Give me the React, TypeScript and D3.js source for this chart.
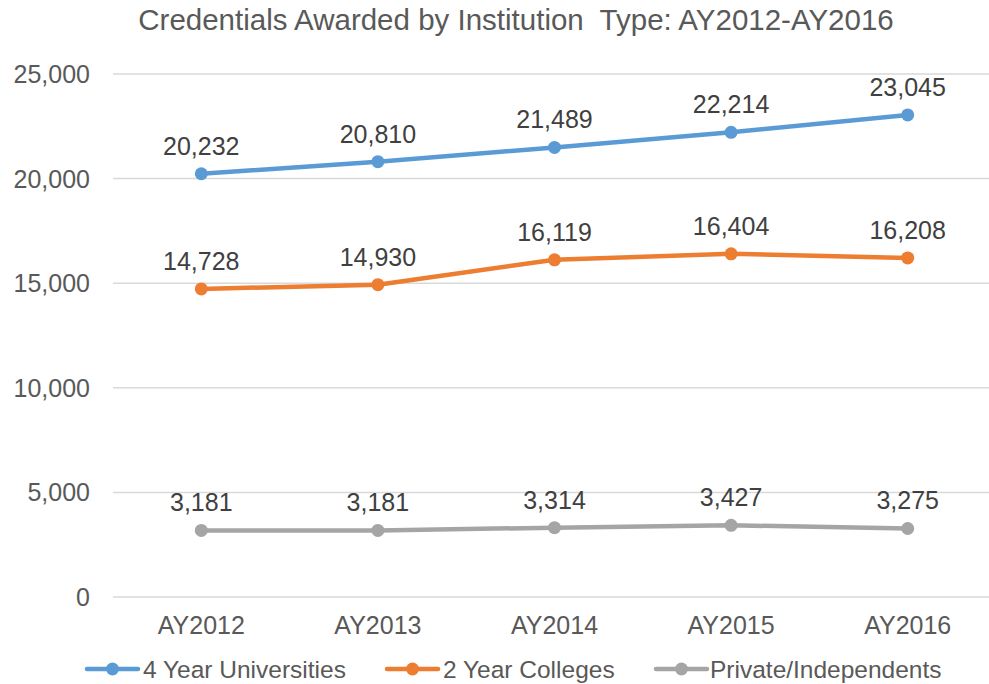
import * as d3 from "d3";

const years = ["AY2012", "AY2013", "AY2014", "AY2015", "AY2016"];
const fourYear = [20232, 20810, 21489, 22214, 23045];
const twoYear = [14728, 14930, 16119, 16404, 16208];
const privateInd = [3181, 3181, 3314, 3427, 3275];
const yTickValues = [0, 5000, 10000, 15000, 20000, 25000];

const seriesList = [
  { name: "4 Year Universities", values: fourYear, color: "#5b9bd5" },
  { name: "2 Year Colleges", values: twoYear, color: "#ed7d31" },
  { name: "Private/Independents", values: privateInd, color: "#a5a5a5" },
];

const W = 989;
const H = 684;
const textColor = "#595959";
const font = "'Liberation Sans', Arial, sans-serif";

export default function App() {
  const x = d3.scalePoint<string>().domain(years).range([113, 996]).padding(0.5);
  const y = d3.scaleLinear().domain([0, 25000]).range([597, 74]);
  const fmt = d3.format(",");

  const line = d3
    .line<number>()
    .x((_, i) => x(years[i]) as number)
    .y((d) => y(d));

  // legend positions (line start, text start)
  const legendItems = [
    { x0: 87, tx: 143 },
    { x0: 387, tx: 443 },
    { x0: 656, tx: 710 },
  ];
  const legendY = 669;

  return (
    <svg
      width={W}
      height={H}
      style={{ position: "absolute", left: 0, top: 0, background: "#fff" }}
      fontFamily={font}
    >
      <rect width={W} height={H} fill="#fff" />
      <text
        x={516}
        y={30}
        textAnchor="middle"
        fontSize={29.5}
        fill={textColor}
        style={{ whiteSpace: "pre" }}
      >
        {"Credentials Awarded by Institution  Type: AY2012-AY2016"}
      </text>

      {yTickValues.map((t) => (
        <g key={`y-${t}`}>
          <line x1={113} x2={W} y1={y(t)} y2={y(t)} stroke="#d9d9d9" strokeWidth={1.5} />
          <text
            x={90}
            y={y(t)}
            textAnchor="end"
            dominantBaseline="central"
            fontSize={25}
            fill={textColor}
          >
            {fmt(t)}
          </text>
        </g>
      ))}

      {years.map((yr) => (
        <text
          key={`x-${yr}`}
          x={x(yr)}
          y={634}
          textAnchor="middle"
          fontSize={25}
          fill={textColor}
        >
          {yr}
        </text>
      ))}

      {seriesList.map((s) => (
        <g key={s.name}>
          <path
            d={line(s.values) ?? ""}
            fill="none"
            stroke={s.color}
            strokeWidth={4.5}
            strokeLinejoin="round"
          />
          {s.values.map((v, i) => (
            <g key={`${s.name}-${i}`}>
              <circle cx={x(years[i])} cy={y(v)} r={6.5} fill={s.color} />
              <text
                x={x(years[i])}
                y={y(v) - 19}
                textAnchor="middle"
                fontSize={25}
                fill="#404040"
              >
                {fmt(v)}
              </text>
            </g>
          ))}
        </g>
      ))}

      {seriesList.map((s, i) => {
        const it = legendItems[i];
        return (
          <g key={`leg-${s.name}`}>
            <line
              x1={it.x0}
              x2={it.x0 + 51}
              y1={legendY}
              y2={legendY}
              stroke={s.color}
              strokeWidth={4.5}
              strokeLinecap="round"
            />
            <circle cx={it.x0 + 25.5} cy={legendY} r={6.5} fill={s.color} />
            <text
              x={it.tx}
              y={legendY}
              dominantBaseline="central"
              fontSize={24.5}
              fill={textColor}
            >
              {s.name}
            </text>
          </g>
        );
      })}
    </svg>
  );
}
